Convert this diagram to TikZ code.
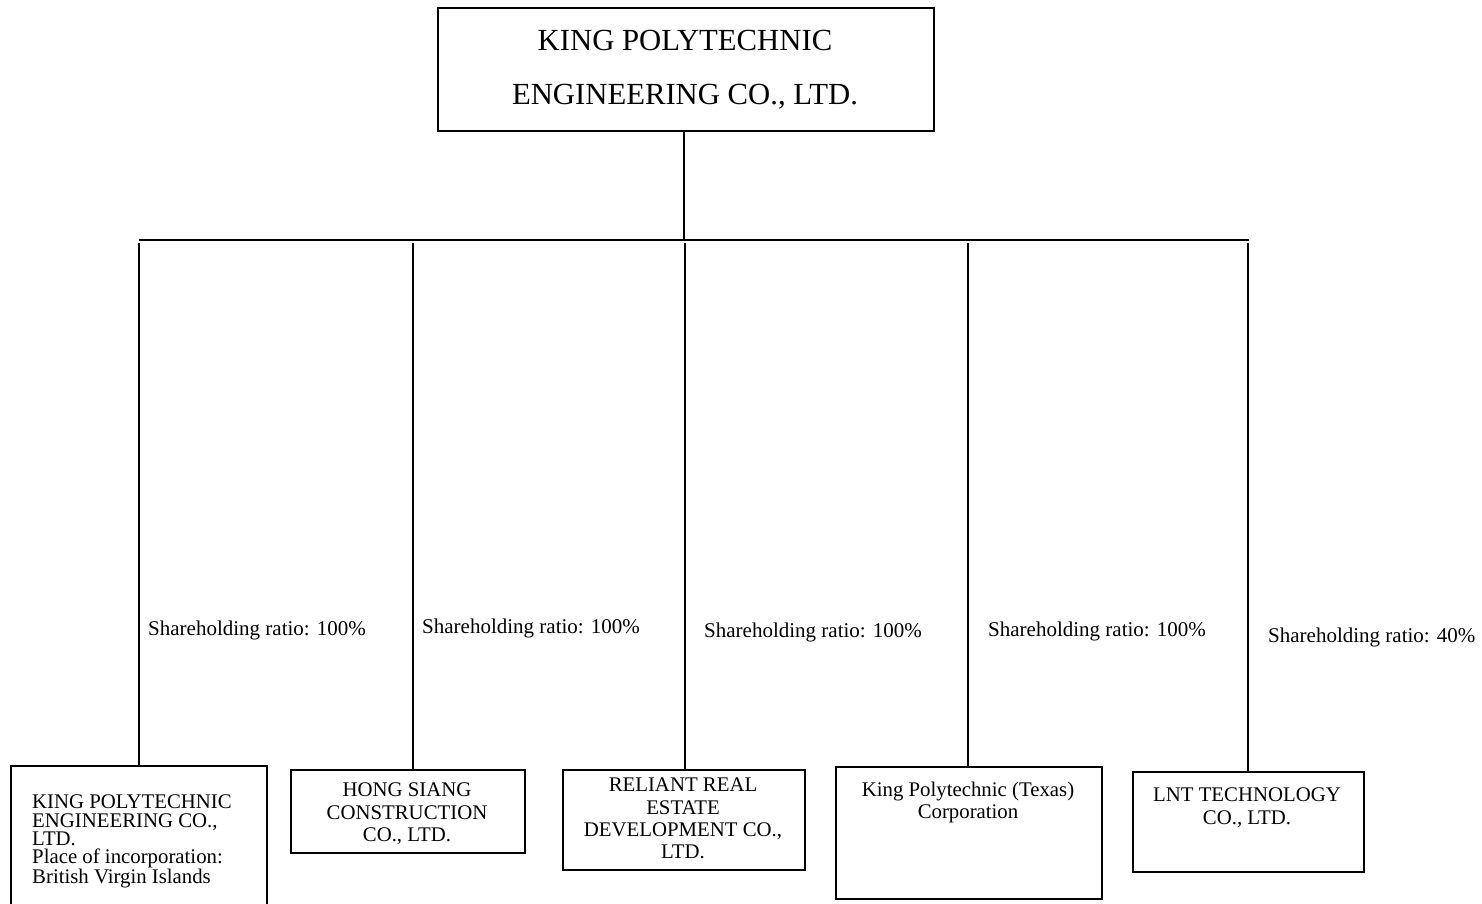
\documentclass[tikz,border=0pt]{standalone}
\usepackage{fontspec}
\setmainfont{Liberation Serif}
\begin{document}
\begin{tikzpicture}[x=1pt,y=-1pt,
  box/.style={draw=black,line width=1.6pt,rectangle,inner sep=0pt,anchor=north west},
  conn/.style={draw=black,line width=1.6pt},
  bigtxt/.style={font=\fontsize{30.7}{54}\selectfont,align=center,inner sep=0pt},
  smalltxt/.style={font=\fontsize{20.8}{22.3}\selectfont,align=center,inner sep=0pt,anchor=north},
  ratio/.style={font=\fontsize{21}{23}\selectfont,inner sep=0pt,anchor=west}]
\useasboundingbox (0,0) rectangle (1482,903);
\fill[white] (0,0) rectangle (1482,903);
% parent
\node[box,minimum width=496pt,minimum height=123pt] (top) at (437,7) {};
\node[bigtxt] (toptxt) at (685,70) {KING POLYTECHNIC\\ENGINEERING CO., LTD.};
% children boxes
\node[box,minimum width=256pt,minimum height=150pt] (b1) at (10,765) {};
\node[box,minimum width=234pt,minimum height=83pt] (b2) at (290,769) {};
\node[box,minimum width=242pt,minimum height=100pt] (b3) at (562,769) {};
\node[box,minimum width=266pt,minimum height=132pt] (b4) at (835,766) {};
\node[box,minimum width=231pt,minimum height=100pt] (b5) at (1132,771) {};
% texts
\node[font=\fontsize{20.8}{18.3}\selectfont,align=left,inner sep=0pt,anchor=north west] (t1) at (32,795)
  {KING POLYTECHNIC\\ENGINEERING CO.,\\LTD.\\Place of incorporation:\\British Virgin Islands};
\node[smalltxt] (t2) at (407,783) {HONG SIANG\\CONSTRUCTION\\CO., LTD.};
\node[smalltxt] (t3) at (683,778) {RELIANT REAL\\ESTATE\\DEVELOPMENT CO.,\\LTD.};
\node[smalltxt] (t4) at (968,782) {King Polytechnic (Texas)\\Corporation};
\node[smalltxt] (t5) at (1247,788) {LNT TECHNOLOGY\\CO., LTD.};
% ratio labels
\node[ratio] (r1) at (148,630) {Shareholding ratio: 100\%};
\node[ratio] (r2) at (422,628) {Shareholding ratio: 100\%};
\node[ratio] (r3) at (704,632) {Shareholding ratio: 100\%};
\node[ratio] (r4) at (988,631) {Shareholding ratio: 100\%};
\node[ratio] (r5) at (1268,637) {Shareholding ratio: 40\%};
% connectors
\coordinate (bus) at (684,240);
\coordinate (busL) at (139,240);
\coordinate (busR) at (1249,240);
\draw[conn] (top.south -| bus) -- (bus);
\draw[conn] (busL) -- (busR);
\foreach \b/\xx in {b1/139,b2/413,b3/685,b4/968,b5/1248}{
  \draw[conn] (\xx,243) -- (\b.north -| \xx,0);
}
\end{tikzpicture}
\end{document}
